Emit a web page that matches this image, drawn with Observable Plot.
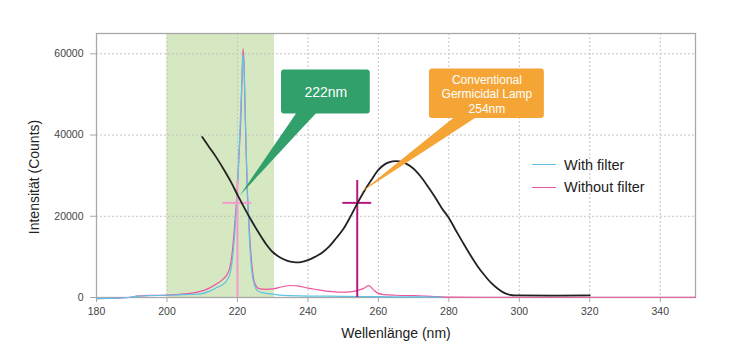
<!DOCTYPE html>
<html><head><meta charset="utf-8">
<script src="https://cdn.jsdelivr.net/npm/d3@7"></script>
<script src="https://cdn.jsdelivr.net/npm/@observablehq/plot@0.6"></script>
<style>
body{margin:0;background:#fff;font-family:"Liberation Sans",Arial,Helvetica,sans-serif;}
#wrap{position:relative;width:732px;height:363px;overflow:hidden;}
.lg-line{position:absolute;height:0;width:24px;border-top:1.5px solid;}
.lg-text{position:absolute;font-size:14.5px;line-height:16px;color:#222;white-space:nowrap;}
.ylab{position:absolute;left:34px;top:177px;font-size:14px;line-height:16px;color:#222;white-space:nowrap;transform:translate(-50%,-50%) rotate(-90deg);}
</style>
</head><body><div id="wrap"></div>
<script>
// ---- data ----
const xTicks = [180, 200, 220, 240, 260, 280, 300, 320, 340];
const yTicks = [0, 20000, 40000, 60000];
const xTitle = "Wellenlänge (nm)";
const yTitle = "Intensität (Counts)";
const seriesNames = ["With filter", "Without filter"];
const seriesColors = ["#5cc3e6", "#ec559f"];

const withFilterNm = [180, 183, 186, 189, 192, 195, 200, 205, 209.5, 212, 214, 216, 217, 218, 218.7, 219.3, 219.8, 220.3, 220.8, 221.2, 221.6, 221.9, 222.2, 222.5, 222.8, 223.1, 223.5, 223.9, 224.3, 224.8, 225.6, 227, 229.4, 233, 240, 250, 260, 270, 278];
const withFilterCounts = [-300, -250, -150, 0, 350, 450, 550, 700, 900, 1500, 2400, 3300, 4200, 6300, 10500, 16500, 23500, 32500, 43000, 52000, 60000, 56000, 46000, 36000, 27000, 20000, 13000, 8000, 5000, 3200, 1700, 1200, 900, 500, 350, 300, 200, 150, 100];

const withoutFilterNm = [180, 183, 186, 189, 192, 195, 200, 205, 209.5, 212, 214, 216, 217, 218, 218.5, 219, 219.5, 220, 220.5, 221, 221.3, 221.6, 221.9, 222.2, 222.5, 222.8, 223.2, 223.6, 224, 224.6, 225.2, 225.8, 228, 230, 233, 235, 237.5, 240, 243, 246, 249, 252, 254, 256, 257.3, 258.5, 259.6, 261.5, 265, 270, 275, 280, 290, 350];
const withoutFilterCounts = [-300, -250, -150, 0, 400, 500, 600, 900, 1500, 2300, 3300, 4600, 5600, 8000, 11000, 15500, 21000, 27500, 36000, 45000, 54000, 61200, 57000, 45000, 35000, 26000, 19500, 13500, 9000, 4500, 3000, 2300, 2000, 2100, 2700, 2950, 2800, 2300, 1900, 1500, 1300, 1400, 1700, 2300, 2900, 2000, 1200, 700, 550, 450, 300, 100, 60, 60];

const curveNm = [210, 212, 214, 216, 218, 220, 222, 224, 226, 228, 230, 232, 234, 236, 238, 240, 242, 244, 246, 248, 250, 252, 254, 256, 258, 260, 262, 264, 266, 268, 270, 272, 274, 276, 278, 280, 282, 284, 286, 288, 290, 292, 294, 296, 298, 300, 320];
const curveCounts = [39500, 37000, 34500, 31700, 28700, 25300, 22000, 18900, 16000, 13300, 11200, 9900, 9100, 8700, 8700, 9200, 10000, 11000, 12500, 14600, 16800, 19800, 23100, 26200, 28900, 31400, 32900, 33500, 33500, 32900, 31700, 29800, 27400, 24800, 22000, 19600, 16500, 13500, 10600, 7900, 5600, 3600, 2100, 1000, 550, 500, 500];

const bandNm = [200, 230.5];
const markerNm = [220, 254];
const markerCounts = [23300, 23300];
const markerTop = [28800, 28800];
const markerColors = ["#f29bcb", "#b8177f"];

const calloutLabels = ["222nm", "Conventional\nGermicidal Lamp\n254nm"];

// ---- annotation geometry (data units) ----
const callouts = [
  {label: calloutLabels[0], fill: "#31a06b", fontSize: 14,
   box: [232.5, 257.7, 45200, 56000], tip: [220.8, 25000], base: [237, 242.7]},
  {label: calloutLabels[1], fill: "#f4a536", fontSize: 12,
   box: [274.5, 307.1, 44100, 56250], tip: [254.9, 25600], base: [281.8, 288.1]}
];

function triangle(c) {
  const [tx, ty] = c.tip, [bl, br] = c.base, by = c.box[2] + 300;
  const yAt = (x) => ty + (by - ty) * (x - tx) / (br - tx);
  return [
    {x: tx, y1: ty, y2: ty},
    {x: bl, y1: yAt(bl), y2: by},
    {x: br, y1: by, y2: by}
  ];
}

const withData = withFilterNm.map((x, i) => ({x, y: withFilterCounts[i]}));
const withoutData = withoutFilterNm.map((x, i) => ({x, y: withoutFilterCounts[i]}));
const curveData = curveNm.map((x, i) => ({x, y: curveCounts[i]}));
const markers = markerNm.map((x, i) => ({x, y: markerCounts[i], top: markerTop[i], color: markerColors[i]}));

const font = "'Liberation Sans', Arial, Helvetica, sans-serif";

const plot = Plot.plot({
  width: 732, height: 363,
  marginLeft: 96, marginRight: 37, marginTop: 33, marginBottom: 66,
  style: {fontFamily: font, fontSize: "10.5px", background: "#fff", color: "#444"},
  x: {domain: [180, 350], axis: null},
  y: {domain: [0, 65000], axis: null},
  marks: [
    Plot.rect([bandNm], {x1: d => d[0], x2: d => d[1], fill: "#d5e8c1"}),
    Plot.gridX(xTicks.slice(1), {stroke: "#c4c4c4", strokeOpacity: 1, strokeDasharray: "2,2"}),
    Plot.gridY(yTicks.slice(1), {stroke: "#c4c4c4", strokeOpacity: 1, strokeDasharray: "2,2"}),
    Plot.frame({stroke: "#a8a8a8", strokeWidth: 1.3}),
    Plot.axisX({ticks: xTicks, tickSize: 5, tickPadding: 5, stroke: "#a8a8a8", fill: "#444", tickFormat: d => String(d), label: null}),
    Plot.axisY({ticks: yTicks, tickSize: 6, tickPadding: 7, stroke: "#a8a8a8", fill: "#444", tickFormat: d => String(d), label: null}),
    Plot.line(withoutData, {x: "x", y: "y", stroke: seriesColors[1], strokeWidth: 1.2, curve: "monotone-x"}),
    Plot.line(withData, {x: "x", y: "y", stroke: seriesColors[0], strokeWidth: 1.2, curve: "monotone-x"}),
    Plot.ruleX(markers, {x: "x", y1: 0, y2: "top", stroke: "color", strokeWidth: 2}),
    Plot.ruleY(markers, {y: "y", x1: d => d.x - 4.1, x2: d => d.x + 4.1, stroke: "color", strokeWidth: 2}),
    Plot.line(curveData, {x: "x", y: "y", stroke: "#222", strokeWidth: 1.8, curve: "catmull-rom"}),
    ...callouts.flatMap(c => [
      Plot.areaY(triangle(c), {x: "x", y1: "y1", y2: "y2", fill: c.fill, curve: "linear"}),
      Plot.rect([c], {x1: d => d.box[0], x2: d => d.box[1], y1: d => d.box[2], y2: d => d.box[3], fill: c.fill, rx: 3}),
      Plot.text([c], {x: d => (d.box[0] + d.box[1]) / 2, y: d => (d.box[2] + d.box[3]) / 2, text: "label",
        fill: "#fff", fontSize: c.fontSize, lineHeight: 1.22, lineAnchor: "middle", textAnchor: "middle"})
    ]),
    Plot.text([xTitle], {frameAnchor: "bottom", dy: 36, fontSize: 14, fill: "#222", lineAnchor: "middle"})
  ]
});

const wrap = document.getElementById("wrap");
wrap.appendChild(plot);

const yl = document.createElement("div");
yl.className = "ylab";
yl.textContent = yTitle;
wrap.appendChild(yl);

// legend
const legendY = [165, 187.5];
seriesNames.forEach((name, i) => {
  const ln = document.createElement("div");
  ln.className = "lg-line";
  ln.style.left = "532px";
  ln.style.top = (legendY[i] - 0.75) + "px";
  ln.style.borderTopColor = seriesColors[i];
  wrap.appendChild(ln);
  const tx = document.createElement("div");
  tx.className = "lg-text";
  tx.style.left = "564px";
  tx.style.top = (legendY[i] - 8.5) + "px";
  tx.textContent = name;
  wrap.appendChild(tx);
});
</script>
</body></html>
